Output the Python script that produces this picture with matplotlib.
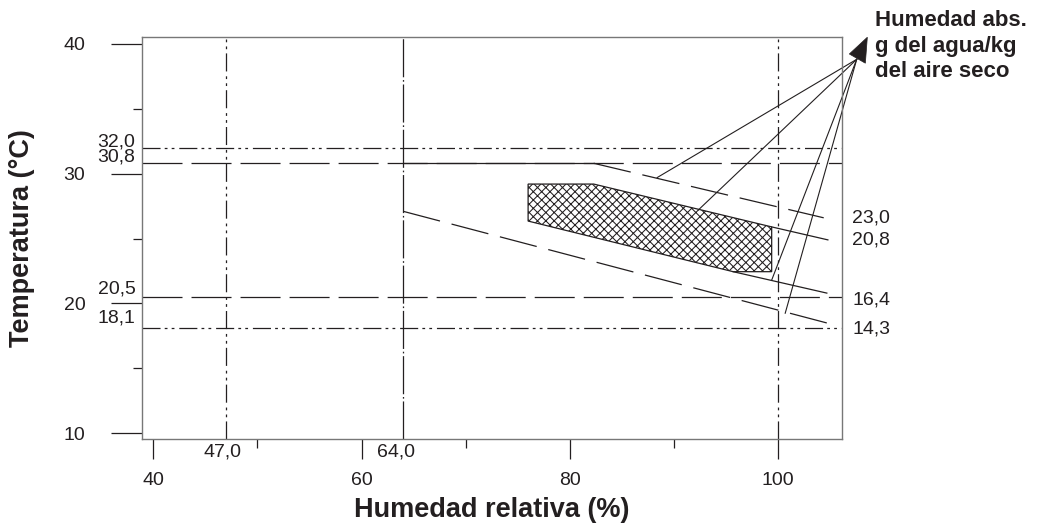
import matplotlib
matplotlib.use("Agg")
import matplotlib.pyplot as plt
from matplotlib.patches import Polygon
from matplotlib.transforms import blended_transform_factory

plt.rcParams['font.family'] = ['Liberation Sans', 'DejaVu Sans']
plt.rcParams['lines.scale_dashes'] = False
plt.rcParams['hatch.linewidth'] = 0.75

# reference lines (values printed next to them)
t_ref_dashdot = [32.0, 18.1]
t_ref_dash = [30.8, 20.5]
rh_ref_dashdot = [47.0, 100.0]
rh_ref_longdashdot = [64.0]

# upper limit (solid) and absolute humidity curves, g/kg
lim_rh = [64.0, 82.3]
lim_t = [30.8, 30.8]
c230_rh = [82.3, 104.4]
c230_t = [30.8, 26.6]
c208_rh = [99.4, 104.8]
c208_t = [25.9, 24.9]
c164_rh = [95.7, 104.7]
c164_t = [22.45, 20.8]
c143_rh = [64.0, 104.7]
c143_t = [27.1, 18.5]

# hatched comfort zone
zona_rh = [76.0, 82.3, 99.4, 99.4, 95.7, 76.0]
zona_t = [29.2, 29.2, 25.9, 22.45, 22.45, 26.35]

# leader lines to the "Humedad abs." note
leader_from = (107.57, 38.81)
leader_to_rh = [88.4, 92.35, 99.4, 100.7]
leader_to_t = [29.7, 27.2, 21.8, 19.25]
arrow_rh = [108.59, 106.86, 108.40]
arrow_t = [40.51, 39.22, 38.51]

curve_labels = ['23,0', '20,8', '16,4', '14,3']
curve_ends = [(c230_rh[-1], c230_t[-1]), (c208_rh[-1], c208_t[-1]),
              (c164_rh[-1], c164_t[-1]), (c143_rh[-1], c143_t[-1])]

ink = '#231f20'
dashdotdot = (0, (13, 3, 2, 3, 2, 3.5))
longdash = (0, (28.8, 6.5))
longdashdot = (0, (27.4, 2, 1.2, 2))
curvedash = (0, (27.4, 8.6))

fig = plt.figure(figsize=(10.42, 5.29), dpi=100)
ax = fig.add_axes([0.1366, 0.1701, 0.6712, 0.7600])
ax.set_xlim(38.94, 106.13)
ax.set_ylim(9.56, 40.53)

for t in t_ref_dashdot:
    ax.axhline(t, color=ink, lw=0.9, linestyle=dashdotdot)
for t in t_ref_dash:
    ax.axhline(t, color=ink, lw=0.9, linestyle=longdash)
for h in rh_ref_dashdot:
    ax.axvline(h, color=ink, lw=0.9, linestyle=dashdotdot)
for h in rh_ref_longdashdot:
    ax.axvline(h, color=ink, lw=0.9, linestyle=longdashdot)

ax.plot(lim_rh, lim_t, color=ink, lw=0.9)
ax.plot(c230_rh, c230_t, color=ink, lw=0.9, linestyle=curvedash)
ax.plot(c208_rh, c208_t, color=ink, lw=0.9)
ax.plot(c164_rh, c164_t, color=ink, lw=0.9)
ax.plot(c143_rh, c143_t, color=ink, lw=0.9, linestyle=curvedash)

ax.add_patch(Polygon(list(zip(zona_rh, zona_t)), closed=True, facecolor='white',
                     edgecolor=ink, hatch='xxxx', lw=0.9))

for h, t in zip(leader_to_rh, leader_to_t):
    ax.plot([leader_from[0], h], [leader_from[1], t], color=ink, lw=0.8, clip_on=False)
ax.add_patch(Polygon(list(zip(arrow_rh, arrow_t)), closed=True, facecolor=ink,
                     edgecolor=ink, lw=0.5, clip_on=False))

# axes styling
for s in ax.spines.values():
    s.set_color('#777777')
    s.set_linewidth(1.0)
ax.set_xticks([40, 60, 80, 100])
ax.set_xticks([50, 70, 90], minor=True)
ax.set_yticks([10, 20, 30, 40])
ax.set_yticks([15, 25, 35], minor=True)
ax.tick_params(axis='x', which='major', length=14.4, width=0.9, pad=9,
               labelsize=14, colors=ink)
ax.tick_params(axis='x', which='minor', length=6.5, width=0.9, colors=ink)
ax.tick_params(axis='y', which='major', length=22, width=0.9, pad=19,
               labelsize=14, colors=ink)
ax.tick_params(axis='y', which='minor', length=6.5, width=0.9, colors=ink)
for tl in ax.yaxis.get_ticklines(minor=False) + ax.yaxis.get_ticklines(minor=True):
    tl.set_color('#666666')

ax.set_xlabel('Humedad relativa (%)', fontsize=19.5, fontweight='bold',
              color=ink)
ax.xaxis.set_label_coords(0.5, -0.145)
ax.set_ylabel('Temperatura (°C)', fontsize=19.5, fontweight='bold',
              color=ink)
ax.yaxis.set_label_coords(-0.1534, 0.5)

# value labels
ty = blended_transform_factory(ax.transAxes, ax.transData)
tx = blended_transform_factory(ax.transData, ax.transAxes)
left_offsets = {32.0: 4.3, 30.8: 4.3, 20.5: 5.8, 18.1: 7.2}
for t in t_ref_dashdot + t_ref_dash:
    ax.annotate(f'{t:.1f}'.replace('.', ','), xy=(0, t), xycoords=ty,
                xytext=(-5, left_offsets[t]), textcoords='offset points',
                ha='right', va='center', fontsize=14, color=ink)
bottom_offsets = {47.0: -3, 64.0: -5}
for h in [47.0, 64.0]:
    ax.annotate(f'{h:.1f}'.replace('.', ','), xy=(h, 0), xycoords=tx,
                xytext=(bottom_offsets[h], -9.4), textcoords='offset points',
                ha='center', va='center', fontsize=14, color=ink)
right_offsets = [0, 0, -5, -4.5]
for lab, (h, t), dy in zip(curve_labels, curve_ends, right_offsets):
    ax.annotate(lab, xy=(1, t), xycoords=ty, xytext=(7.4, dy),
                textcoords='offset points', ha='left', va='center',
                fontsize=14, color=ink)

fig.text(875 / 1042, 0.981, 'Humedad abs.\ng del agua/kg\ndel aire seco',
         ha='left', va='top', fontsize=16, fontweight='bold', color=ink,
         linespacing=1.29)

fig.savefig('out.png', dpi=100)
